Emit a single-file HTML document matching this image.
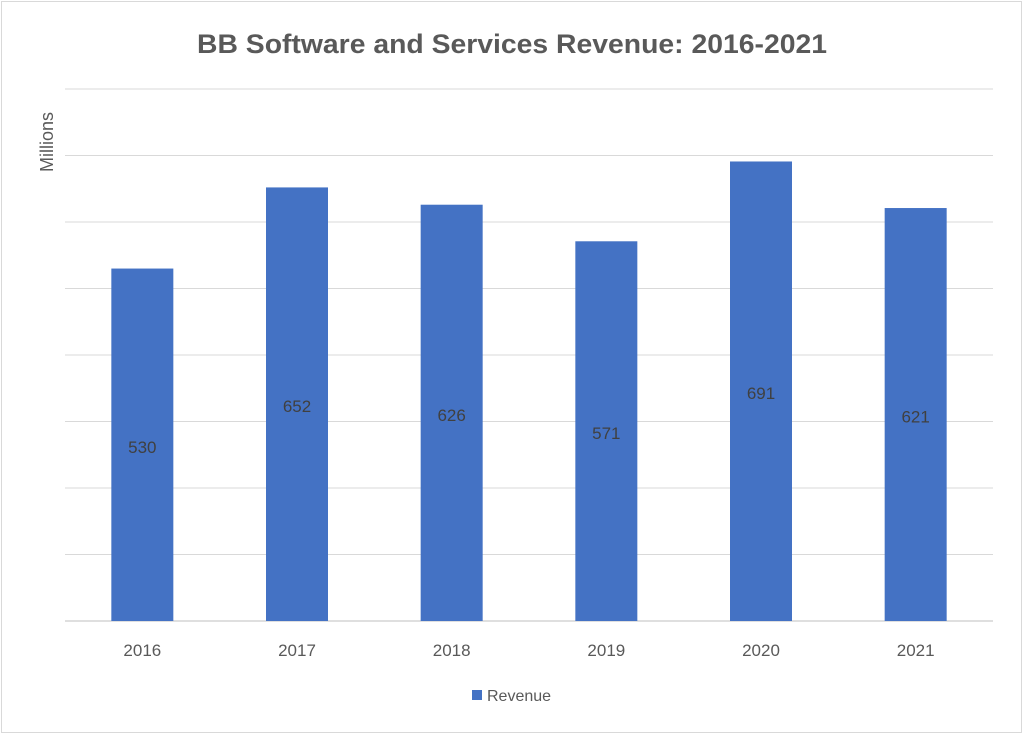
<!DOCTYPE html>
<html><head><meta charset="utf-8"><style>
body{margin:0;background:#fff;}
svg text{font-family:"Liberation Sans",sans-serif;}
</style></head><body>
<svg id="chart" width="1024" height="735" viewBox="0 0 1024 735">
<rect x="1.5" y="1.5" width="1020" height="731" fill="#fff" stroke="#d9d9d9"/>
<text x="512" y="53" text-anchor="middle" font-size="27" font-weight="bold" fill="#595959" textLength="630" lengthAdjust="spacingAndGlyphs">BB Software and Services Revenue: 2016-2021</text>
<text transform="translate(53,142) rotate(-90)" text-anchor="middle" font-size="18" fill="#595959">Millions</text>
<g id="grid"></g><g id="bars"></g><g id="xlabels"></g>
<rect x="472" y="690" width="10" height="10" fill="#4472c4"/>
<text x="487" y="701" font-size="16" fill="#595959">Revenue</text>
</svg>
<script>
const categories=["2016","2017","2018","2019","2020","2021"];
const values=[530,652,626,571,691,621];
const yTicks=[0,100,200,300,400,500,600,700,800];
const NS="http://www.w3.org/2000/svg";
const x0=65,x1=993,yBase=621,yTop=89,yMax=800;
const y=v=>yBase-(v/yMax)*(yBase-yTop);
const band=(x1-x0)/categories.length;
const xc=i=>x0+band*(i+0.5);
function mk(tag,attrs,parent){const e=document.createElementNS(NS,tag);for(const k in attrs)e.setAttribute(k,attrs[k]);document.getElementById(parent).appendChild(e);return e;}
yTicks.forEach(t=>{
 const l=mk("line",{x1:x0,x2:x1,y1:y(t),y2:y(t),stroke:t===0?"#bfbfbf":"#d9d9d9","stroke-width":1},"grid");
 
 
});
categories.forEach((c,i)=>{
 const bw=62;
 const r=mk("rect",{x:xc(i)-bw/2,y:y(values[i]),width:bw,height:yBase-y(values[i]),fill:"#4472c4"},"bars");
 
 
 const t=mk("text",{x:xc(i),y:(y(values[i])+yBase)/2+8,"text-anchor":"middle","font-size":"17",fill:"#404040"},"bars");
 t.textContent=values[i];
 
 
 const xl=mk("text",{x:xc(i),y:656,"text-anchor":"middle","font-size":"17",fill:"#595959"},"xlabels");
 xl.textContent=c;
 
 
});
</script>
</body></html>
